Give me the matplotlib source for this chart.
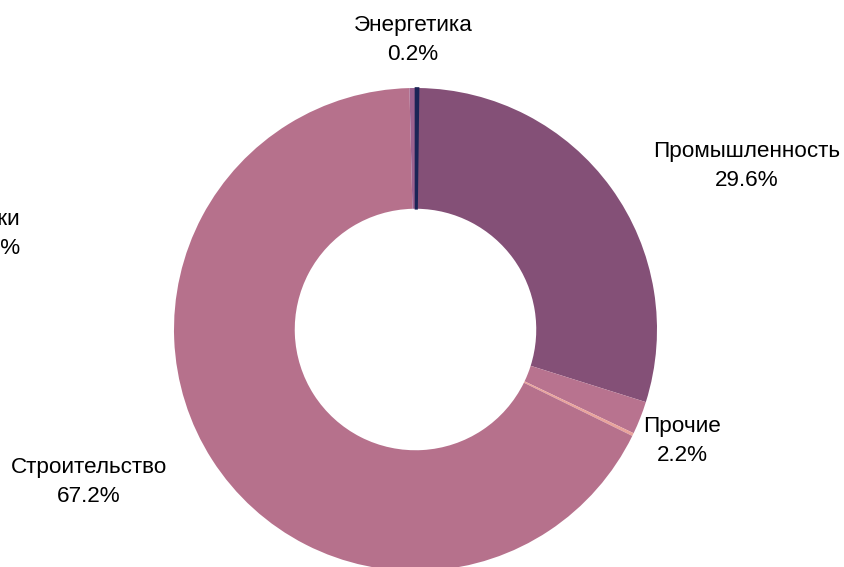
import numpy as np
import matplotlib
matplotlib.use("Agg")
import matplotlib.pyplot as plt

plt.rcParams['font.family'] = ['Liberation Sans', 'DejaVu Sans']

# Data (clockwise from 12 o'clock)
categories = ["Энергетика", "Промышленность", "Прочие", "Другое", "Строительство", "Перевозки"]
values = [0.2, 29.6, 2.2, 0.2, 67.2, 0.4]
value_labels = ["0.2%", "29.6%", "2.2%", "", "67.2%", "0.4%"]
colors = ["#1b2456", "#845077", "#b8738f", "#e9a39c", "#b6718c", "#9c6290"]

W, H = 844, 567
fig = plt.figure(figsize=(W / 100, H / 100), dpi=100)
ax = fig.add_axes([0, 0, 1, 1])
R = 241.5
cx, cy = 415.5, H - 329.5

wedges, _ = ax.pie(values, colors=colors, startangle=90, counterclock=False,
                   radius=1.0, wedgeprops=dict(width=0.5, linewidth=0))
# slightly thicken the tiny dark slice as in the reference rendering
wedges[0].set_edgecolor(colors[0])
wedges[0].set_linewidth(1.2)
wedges[0].set_zorder(3)
ax.set_xlim(-cx / R, (W - cx) / R)
ax.set_ylim(-cy / R, (H - cy) / R)
ax.set_aspect('equal')
ax.axis('off')

# Labels
fs = 16.2
ls = 1.55
label_pos = {
    "Энергетика": (413, 40, 'center'),
    "Промышленность": (747, 166, 'center'),
    "Прочие": (682, 441, 'center'),
    "Строительство": (89, 482, 'center'),
    "Перевозки": (20, 234, 'right'),
}
for cat, lab in zip(categories, value_labels):
    if lab == "":
        continue
    px, py, ha = label_pos[cat]
    ax.text((px - cx) / R, (H - py - cy) / R, f"{cat}\n{lab}", ha=ha, va='center',
            fontsize=fs, multialignment=ha, linespacing=ls)

fig.savefig("out.png", dpi=100)
